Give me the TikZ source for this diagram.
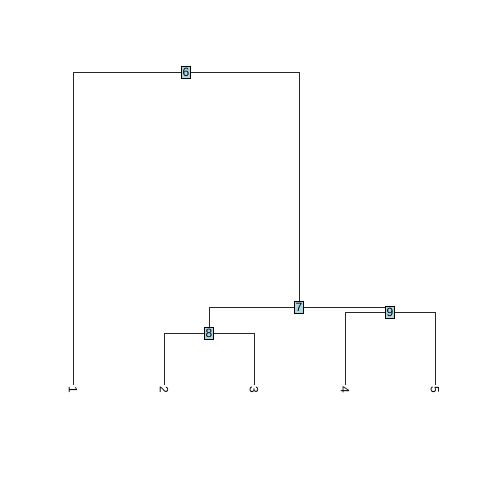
\documentclass[tikz,border=0pt]{standalone}
\usepackage{fontspec}
\setmainfont{Liberation Sans}
\usetikzlibrary{backgrounds}
\definecolor{boxblue}{RGB}{173, 216, 230}

\begin{document}
\begin{tikzpicture}[x=1pt, y=-1pt,
    inner/.style={draw=black, fill=boxblue, line width=0.6pt, inner xsep=1.2pt,
      inner ysep=0pt, minimum height=12pt, font=\fontsize{12}{12}\selectfont},
    leaflab/.style={rotate=-90, anchor=west, inner sep=1pt, font=\fontsize{12}{12}\selectfont},
    branch/.style={line width=0.6pt, black!85}]
  \useasboundingbox (0,0) rectangle (480,480);

  % ===== 叶子 =====
  \coordinate (l1) at (73, 385);
  \coordinate (l2) at (164, 385);
  \coordinate (l3) at (254, 385);
  \coordinate (l4) at (345, 385);
  \coordinate (l5) at (435, 385);
  \foreach \i in {1,...,5} {
    \node[leaflab] (t\i) at (l\i) {\i};
  }

  % ===== 内部结点 =====
  \node[inner] (n6) at (186, 72) {6};
  \node[inner] (n7) at (299, 307) {7};
  \node[inner] (n8) at (209, 333) {8};
  \node[inner] (n9) at (390, 312) {9};

  % ===== 分支 =====
  \begin{scope}[on background layer]
    \draw[branch] (n6.center) -| (l1);
    \draw[branch] (n6.center) -| (n7.center);
    \draw[branch] (n7.center) -| (n8.center);
    \draw[branch] (n7.center) -| (n9.center);
    \draw[branch] (n8.center) -| (l2);
    \draw[branch] (n8.center) -| (l3);
    \draw[branch] (n9.center) -| (l4);
    \draw[branch] (n9.center) -| (l5);
  \end{scope}
\end{tikzpicture}
\end{document}
